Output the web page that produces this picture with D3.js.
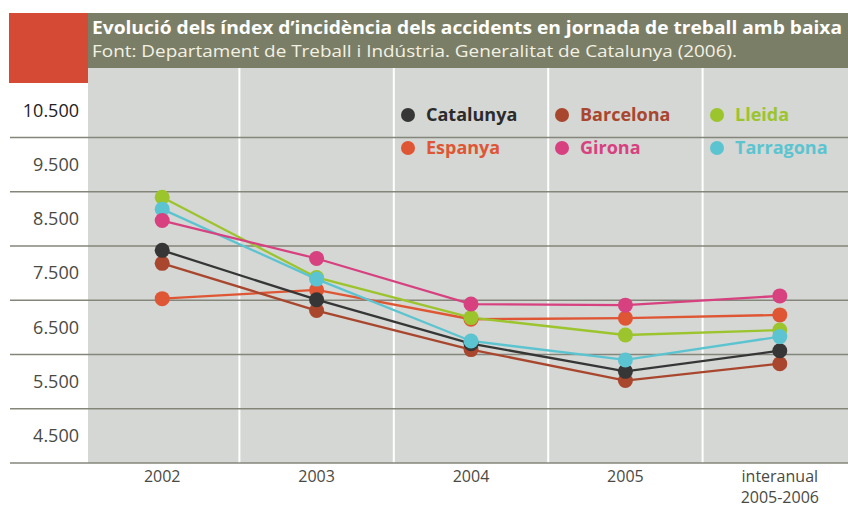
<!DOCTYPE html>
<html>
<head>
<meta charset="utf-8">
<script src="https://cdn.jsdelivr.net/npm/d3@7"></script>
<style>
  html, body { margin: 0; padding: 0; background: #ffffff; }
  svg { display: block; }
</style>
</head>
<body>
<script>
// Data
const categories = ["2002", "2003", "2004", "2005", "interanual"];
const catalunya = [7920, 7010, 6200, 5690, 6070];
const barcelona = [7680, 6810, 6090, 5520, 5830];
const lleida    = [8900, 7420, 6680, 6360, 6450];
const espanya   = [7030, 7190, 6650, 6670, 6730];
const girona    = [8470, 7770, 6930, 6910, 7080];
const tarragona = [8680, 7390, 6250, 5900, 6330];
const gridTicks = [4000, 5000, 6000, 7000, 8000, 9000, 10000];
const labelTicks = [4500, 5500, 6500, 7500, 8500, 9500, 10500];

const series = [
  { name: "Espanya",   values: espanya,   color: "#df5634" },
  { name: "Barcelona", values: barcelona, color: "#a9462e" },
  { name: "Catalunya", values: catalunya, color: "#363636" },
  { name: "Lleida",    values: lleida,    color: "#9cc42c" },
  { name: "Tarragona", values: tarragona, color: "#5cc4d0" },
  { name: "Girona",    values: girona,    color: "#d7417f" }
];
const legendOrder = [
  ["Catalunya", "Barcelona", "Lleida"],
  ["Espanya", "Girona", "Tarragona"]
];

const width = 848, height = 508;
const svg = d3.select("body").append("svg")
    .attr("width", width)
    .attr("height", height);

const fmt = d3.formatLocale({ decimal: ",", thousands: ".", grouping: [3], currency: ["", "€"] }).format(",d");

const x = d3.scalePoint().domain(categories).range([85, 857]).padding(0.5);
const y = d3.scaleLinear().domain([4000, 11300]).range([463, 67]);
const step = x.step();

// chart background
svg.append("rect")
    .attr("x", 88).attr("y", 67)
    .attr("width", width - 88).attr("height", 463 - 67)
    .attr("fill", "#d4d7d4");

// vertical white separators
svg.append("g").selectAll("line")
    .data(categories.slice(0, -1))
    .join("line")
    .attr("x1", d => x(d) + step / 2).attr("x2", d => x(d) + step / 2)
    .attr("y1", 67).attr("y2", 463)
    .attr("stroke", "#ffffff").attr("stroke-width", 2);

// horizontal grid lines
svg.append("g").selectAll("line")
    .data(gridTicks)
    .join("line")
    .attr("x1", 10).attr("x2", width)
    .attr("y1", d => y(d)).attr("y2", d => y(d))
    .attr("stroke", "#85867a").attr("stroke-width", 1.6);

// y labels
svg.append("g").selectAll("text")
    .data(labelTicks)
    .join("text")
    .attr("x", 79).attr("y", d => y(d))
    .attr("dy", "0.35em")
    .attr("text-anchor", "end")
    .attr("font-family", "Open Sans, sans-serif")
    .attr("font-size", 18)
    .attr("fill", d => d === 10500 ? "#222" : "#4a4a44")
    .text(d => fmt(d));

// x labels
const xl = svg.append("g").selectAll("text")
    .data(categories)
    .join("text")
    .attr("x", d => x(d)).attr("y", 482)
    .attr("text-anchor", "middle")
    .attr("font-family", "Open Sans, sans-serif")
    .attr("font-size", 16)
    .attr("fill", "#4a4a44");
xl.append("tspan").text(d => d);
xl.filter(d => d === "interanual").append("tspan")
    .attr("x", d => x(d)).attr("dy", 21).text("2005-2006");

// header
svg.append("rect").attr("x", 88).attr("y", 13).attr("width", width - 88).attr("height", 55)
    .attr("fill", "#7b7e66");
svg.append("rect").attr("x", 9).attr("y", 13).attr("width", 79).attr("height", 70)
    .attr("fill", "#d44a34");
svg.append("text")
    .attr("x", 92).attr("y", 34)
    .attr("font-family", "Open Sans, sans-serif")
    .attr("font-weight", "bold").attr("font-size", 18)
    .attr("fill", "#ffffff")
    .attr("textLength", 750).attr("lengthAdjust", "spacingAndGlyphs")
    .text("Evolució dels índex d’incidència dels accidents en jornada de treball amb baixa");
svg.append("text")
    .attr("x", 92).attr("y", 57)
    .attr("font-family", "Open Sans, sans-serif")
    .attr("font-size", 17)
    .attr("fill", "#f3f1e4")
    .attr("textLength", 645).attr("lengthAdjust", "spacingAndGlyphs")
    .text("Font: Departament de Treball i Indústria. Generalitat de Catalunya (2006).");

// lines
const line = d3.line()
    .x((d, i) => x(categories[i]))
    .y(d => y(d));

svg.append("g").selectAll("path")
    .data(series)
    .join("path")
    .attr("d", d => line(d.values))
    .attr("fill", "none")
    .attr("stroke", d => d.color)
    .attr("stroke-width", 2.3);

// points
svg.append("g").selectAll("g")
    .data(series)
    .join("g")
    .attr("fill", d => d.color)
    .selectAll("circle")
    .data(d => d.values)
    .join("circle")
    .attr("cx", (d, i) => x(categories[i]))
    .attr("cy", d => y(d))
    .attr("r", 7.5);

// legend
const colorOf = Object.fromEntries(series.map(s => [s.name, s.color]));
const legendX = [408, 562, 717];
const legendY = [115, 148];
legendOrder.forEach((row, r) => {
  row.forEach((name, c) => {
    const g = svg.append("g").attr("transform", `translate(${legendX[c]},${legendY[r]})`);
    g.append("circle").attr("r", 7).attr("fill", colorOf[name]);
    g.append("text")
        .attr("x", 18).attr("dy", "0.35em")
        .attr("font-family", "Open Sans, sans-serif")
        .attr("font-weight", "bold").attr("font-size", 18)
        .attr("fill", name === "Catalunya" ? "#2b2b2b" : colorOf[name])
        .text(name);
  });
});
</script>
</body>
</html>
